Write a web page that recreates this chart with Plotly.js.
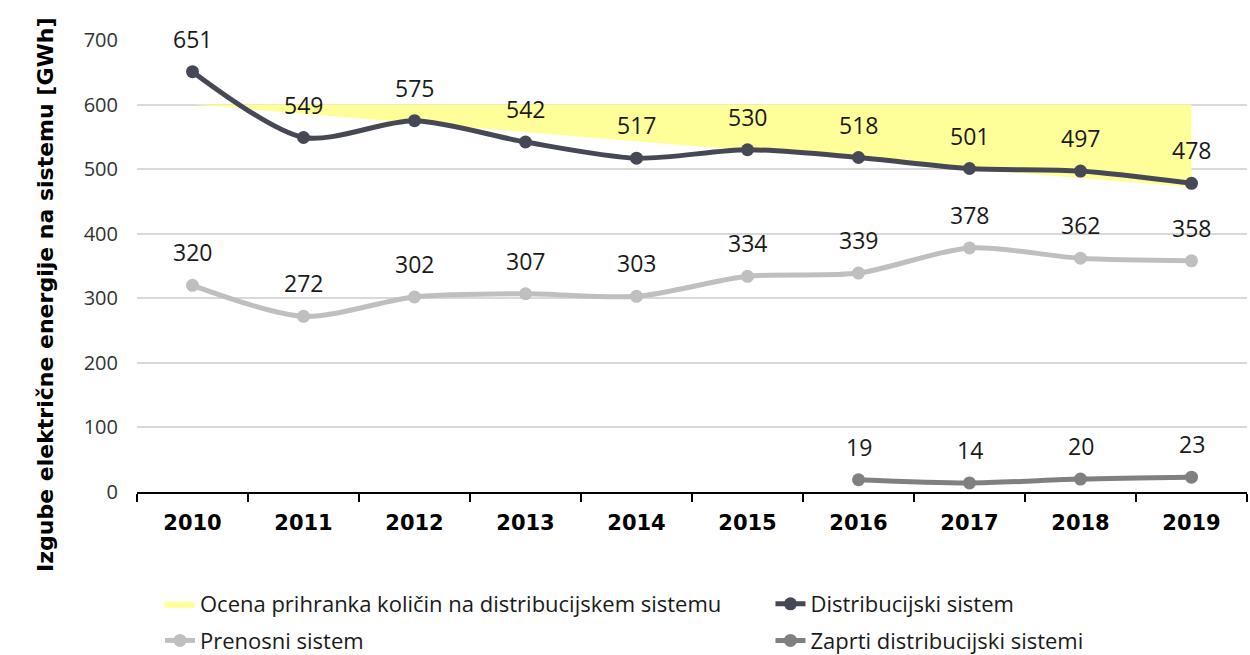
<!DOCTYPE html>
<html>
<head>
<meta charset="utf-8">
<script src="https://cdn.plot.ly/plotly-3.0.1.min.js"></script>
<style>html,body{margin:0;padding:0;background:#fff;}#chart{width:1250px;height:655px;}</style>
</head>
<body>
<div id="chart"></div>
<script>
const years = ['2010','2011','2012','2013','2014','2015','2016','2017','2018','2019'];
const distribucijski = [651,549,575,542,517,530,518,501,497,478];
const prenosni = [320,272,302,307,303,334,339,378,362,358];
const zaprti = [null,null,null,null,null,null,19,14,20,23];
// Savings estimate band: top edge and sloping bottom edge, at first and last year
const savingsYears = ['2010','2019'];
const savingsTop = [600,600];
const savingsBase = [600,472];

const yTitle = 'Izgube električne energije na sistemu [GWh]';
const names = {
  savings: 'Ocena prihranka količin na distribucijskem sistemu',
  dist: 'Distribucijski sistem',
  pren: 'Prenosni sistem',
  zap: 'Zaprti distribucijski sistemi'
};

const cDist = '#474856', cPren = '#bfbfbf', cZap = '#808080', cYellow = '#ffff99';
const fontReg = 'Open Sans, sans-serif';
const fontBold = 'DejaVu Sans, sans-serif';

const traces = [
  {x: savingsYears, y: savingsBase, type:'scatter', mode:'lines', line:{width:0, color:cYellow},
   showlegend:false, hoverinfo:'skip'},
  {x: savingsYears, y: savingsTop, type:'scatter', mode:'lines', fill:'tonexty', fillcolor:cYellow,
   line:{width:0, color:cYellow}, name:names.savings, legend:'legend', legendgroup:'g1'},
  {x: years, y: distribucijski, type:'scatter', mode:'lines+markers', name:names.dist,
   line:{color:cDist, width:5, shape:'spline', smoothing:0.8}, marker:{color:cDist, size:13},
   legend:'legend2', legendgroup:'g2'},
  {x: years, y: prenosni, type:'scatter', mode:'lines+markers', name:names.pren,
   line:{color:cPren, width:5, shape:'spline', smoothing:0.8}, marker:{color:cPren, size:13},
   legend:'legend', legendgroup:'g3'},
  {x: years, y: zaprti, type:'scatter', mode:'lines+markers', name:names.zap,
   line:{color:cZap, width:5, shape:'spline', smoothing:0.8}, marker:{color:cZap, size:13},
   legend:'legend2', legendgroup:'g4'}
];

const annotations = [];
[distribucijski, prenosni, zaprti].forEach(series => {
  series.forEach((v, i) => {
    if (v === null) return;
    annotations.push({x: i, y: v, xref:'x', yref:'y', text: String(v), showarrow:false, yshift:33,
      xanchor:'center', yanchor:'middle', font:{family:fontReg, size:23, color:'#1a1a1a'}});
  });
});
// y-axis title (drawn as rotated annotation so it can sit where the reference puts it)
annotations.push({xref:'paper', yref:'paper', x:-0.082, y:0.436, text:yTitle, textangle:-90,
  showarrow:false, xanchor:'center', yanchor:'middle',
  font:{family:fontBold, size:22, color:'#000', weight:'bold'}});

const legendCommon = {orientation:'v', xanchor:'left', yanchor:'top',
  font:{family:fontReg, size:22, color:'#1a1a1a'}, bgcolor:'rgba(0,0,0,0)', tracegroupgap:5};

const layout = {
  width:1250, height:655,
  margin:{l:137, r:3, t:40, b:163, autoexpand:false},
  paper_bgcolor:'#ffffff', plot_bgcolor:'#ffffff',
  showlegend:true,
  xaxis:{type:'category', categoryorder:'array', categoryarray:years, range:[-0.5,9.5],
    showline:true, linecolor:'#000', linewidth:2, ticks:'outside', tickson:'boundaries',
    ticklen:8, tickwidth:2, tickcolor:'#000', showgrid:false, zeroline:false,
    ticklabelstandoff:11, tickangle:0,
    tickfont:{family:fontBold, size:21, color:'#000', weight:'bold'}},
  yaxis:{range:[0,700], dtick:100, tick0:0, showgrid:true, gridcolor:'#d9d9d9', gridwidth:2,
    zeroline:false, showline:false, ticks:'', ticklabelstandoff:18,
    tickfont:{family:fontReg, size:20, color:'#333'}},
  legend: Object.assign({}, legendCommon, {x:0.0207, y:-0.2013}),
  legend2: Object.assign({}, legendCommon, {x:0.5707, y:-0.2013}),
  annotations: annotations
};

Plotly.newPlot('chart', traces, layout, {displayModeBar:false, staticPlot:true});
</script>
</body>
</html>
